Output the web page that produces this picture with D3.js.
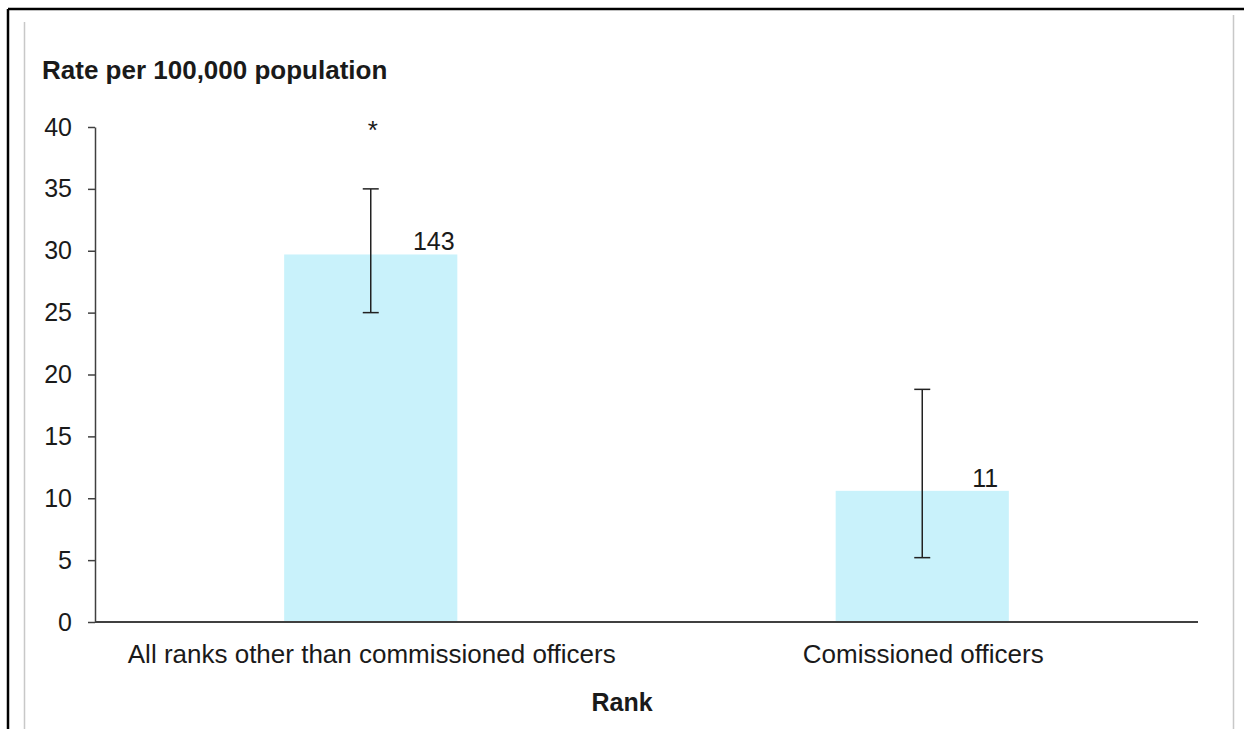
<!DOCTYPE html>
<html>
<head>
<meta charset="utf-8">
<script src="https://cdn.jsdelivr.net/npm/d3@7"></script>
<style>
  body { margin: 0; background: #fff; }
  svg text { font-family: "Liberation Sans", Arial, sans-serif; fill: #1a1a1a; }
</style>
</head>
<body>
<svg id="chart" width="1244" height="729"></svg>
<script>
// data
var categories = ["All ranks other than commissioned officers", "Comissioned officers"];
var rates = [29.7, 10.6];
var lowerCI = [25.0, 5.2];
var upperCI = [35.0, 18.8];
var counts = ["143", "11"];
var marks = ["*", ""];
var yTicks = [0, 5, 10, 15, 20, 25, 30, 35, 40];

var rows = categories.map(function(c, i){
  return {cat: c, rate: rates[i], lo: lowerCI[i], hi: upperCI[i], n: counts[i], mark: marks[i]};
});

var fs = "25px";
var svg = d3.select("#chart");

// frame lines
svg.append("line").attr("x1", 8).attr("x2", 1244).attr("y1", 9).attr("y2", 9)
   .attr("stroke", "#000").attr("stroke-width", 2.5);
svg.append("line").attr("x1", 8).attr("x2", 8).attr("y1", 9).attr("y2", 729)
   .attr("stroke", "#000").attr("stroke-width", 2.5);
svg.append("line").attr("x1", 24.5).attr("x2", 24.5).attr("y1", 22).attr("y2", 729)
   .attr("stroke", "#c8c8c8").attr("stroke-width", 1.5);
svg.append("line").attr("x1", 1233.5).attr("x2", 1233.5).attr("y1", 15).attr("y2", 729)
   .attr("stroke", "#c8c8c8").attr("stroke-width", 1.5);

var plotLeft = 95, plotRight = 1198, plotTop = 127, plotBottom = 622;

var x = d3.scaleBand().domain(categories).range([plotLeft, plotRight]).paddingInner(0.686).paddingOuter(0.343);
var y = d3.scaleLinear().domain([0, 40]).range([plotBottom, plotTop]);

// bars
svg.append("g").selectAll("rect")
   .data(rows).enter()
   .append("rect")
   .attr("x", function(d){ return x(d.cat); })
   .attr("y", function(d){ return y(d.rate); })
   .attr("width", x.bandwidth())
   .attr("height", function(d){ return y(0) - y(d.rate); })
   .attr("fill", "#c9f2fb");

// y axis
var yAxis = d3.axisLeft(y).tickValues(yTicks).tickSize(7).tickPadding(16).tickSizeOuter(0);
var yg = svg.append("g").attr("transform", "translate(" + plotLeft + ",0)").call(yAxis);
yg.select(".domain").attr("stroke", "#404040").attr("stroke-width", 1.5);
yg.selectAll(".tick line").attr("stroke", "#404040").attr("stroke-width", 1.5);
yg.selectAll(".tick text").attr("font-size", fs).attr("fill", "#1a1a1a")
  .style("font-family", "'Liberation Sans', Arial, sans-serif");

// x axis baseline
svg.append("line").attr("x1", plotLeft).attr("x2", plotRight).attr("y1", y(0)).attr("y2", y(0))
   .attr("stroke", "#404040").attr("stroke-width", 2);

// error bars
var eb = svg.append("g").selectAll(".eb").data(rows).enter().append("g").attr("class", "eb");
eb.append("line")
  .attr("x1", function(d){ return x(d.cat) + x.bandwidth()/2; })
  .attr("x2", function(d){ return x(d.cat) + x.bandwidth()/2; })
  .attr("y1", function(d){ return y(d.lo); })
  .attr("y2", function(d){ return y(d.hi); })
  .attr("stroke", "#222").attr("stroke-width", 1.5);
[function(d){ return y(d.lo); }, function(d){ return y(d.hi); }].forEach(function(fy){
  eb.append("line")
    .attr("x1", function(d){ return x(d.cat) + x.bandwidth()/2 - 8; })
    .attr("x2", function(d){ return x(d.cat) + x.bandwidth()/2 + 8; })
    .attr("y1", fy).attr("y2", fy)
    .attr("stroke", "#222").attr("stroke-width", 1.5);
});

// count labels
svg.append("g").selectAll("text")
   .data(rows).enter()
   .append("text")
   .attr("x", function(d){ return x(d.cat) + x.bandwidth()/2 + 63; })
   .attr("y", function(d){ return y(d.rate) - 4; })
   .attr("text-anchor", "middle")
   .attr("font-size", fs)
   .text(function(d){ return d.n; });

// significance marks
svg.append("g").selectAll("text")
   .data(rows).enter()
   .append("text")
   .attr("x", function(d){ return x(d.cat) + x.bandwidth()/2 + 2; })
   .attr("y", 139)
   .attr("text-anchor", "middle")
   .attr("font-size", "26px")
   .text(function(d){ return d.mark; });

// category labels
svg.append("g").selectAll("text")
   .data(rows).enter()
   .append("text")
   .attr("x", function(d){ return x(d.cat) + x.bandwidth()/2 + 1; })
   .attr("y", 663)
   .attr("text-anchor", "middle")
   .attr("font-size", "26px")
   .text(function(d){ return d.cat; });

// titles
svg.append("text").attr("x", 42).attr("y", 79)
   .attr("font-size", "26px").attr("font-weight", "bold")
   .text("Rate per 100,000 population");
svg.append("text").attr("x", 622).attr("y", 711)
   .attr("text-anchor", "middle")
   .attr("font-size", fs).attr("font-weight", "bold")
   .text("Rank");
</script>
</body>
</html>
